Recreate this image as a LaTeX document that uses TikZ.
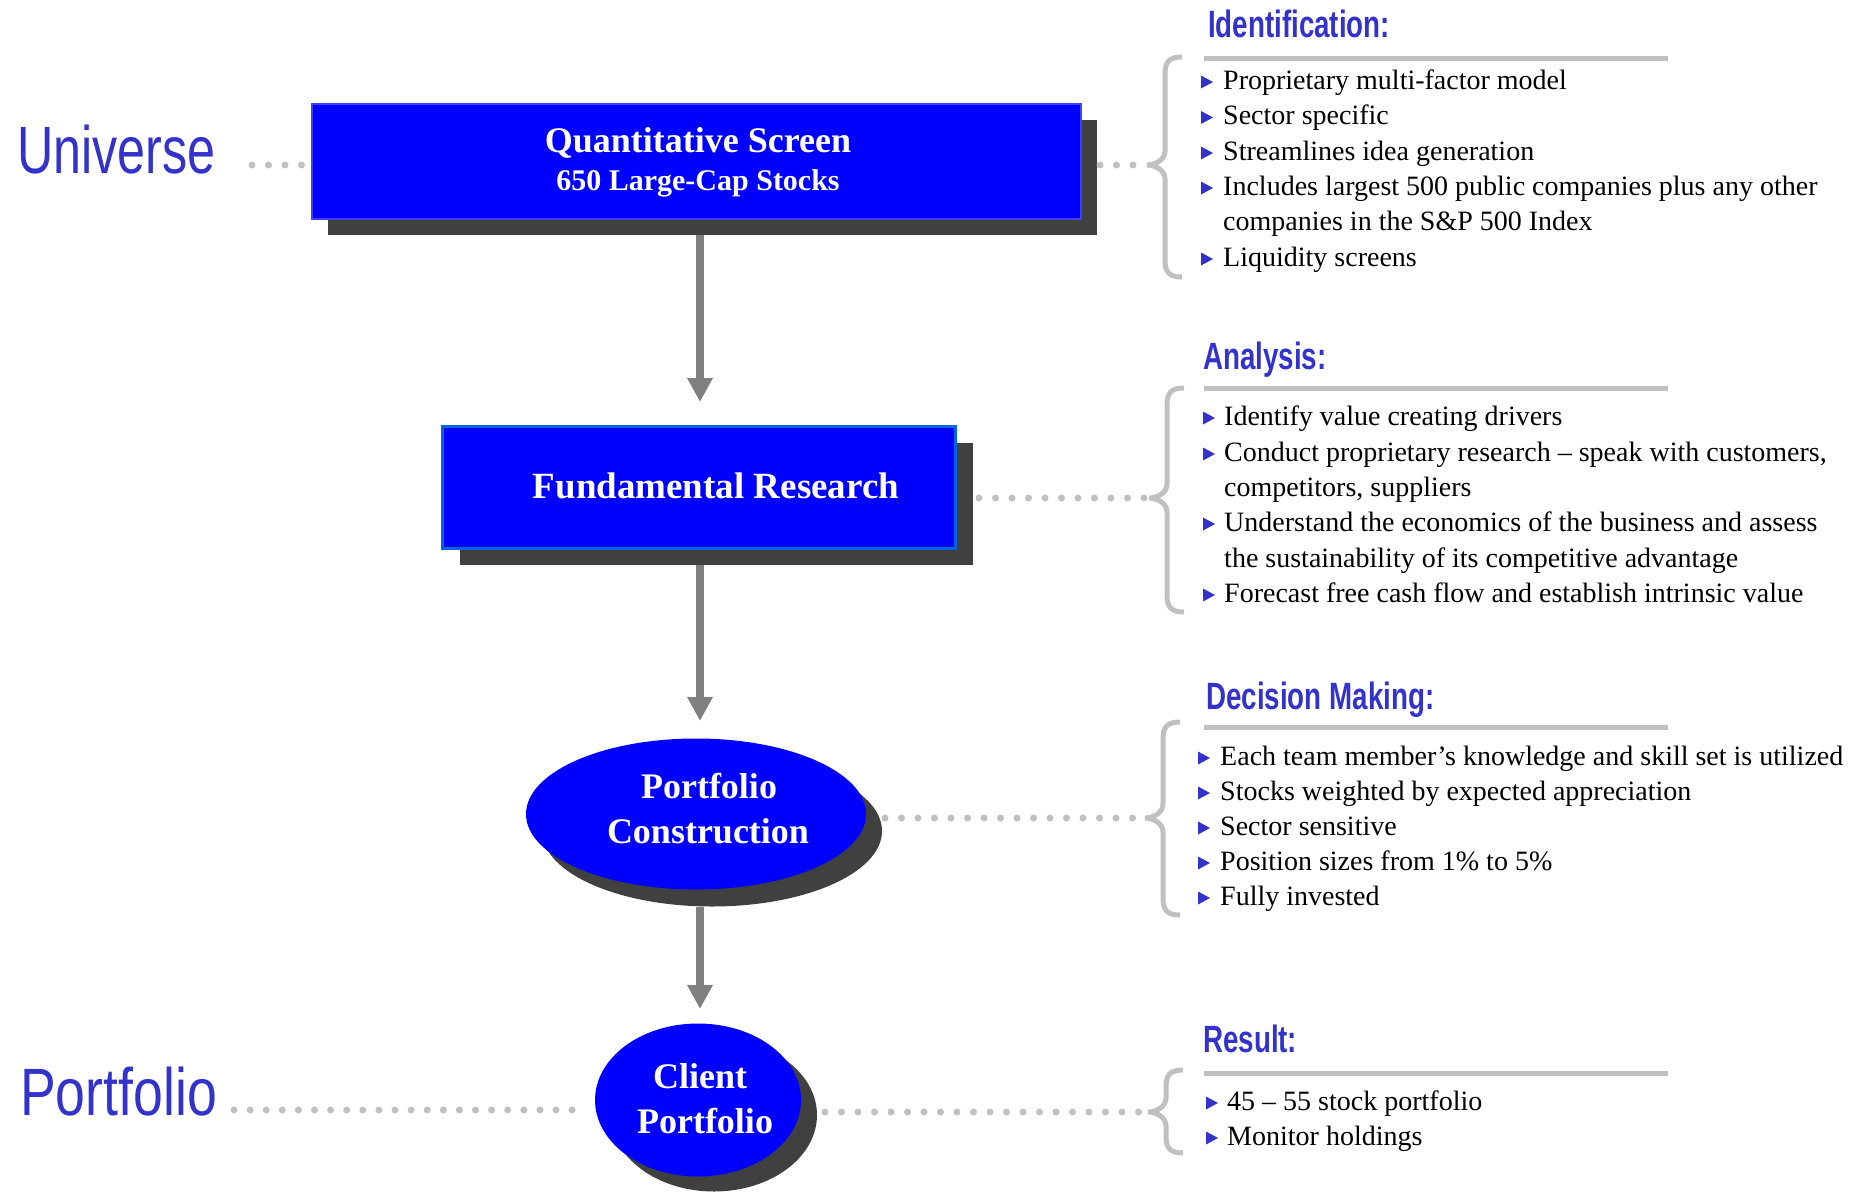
\documentclass[tikz,border=0pt]{standalone}
\usepackage{fontspec}
\setmainfont{Liberation Serif}
\newfontfamily\bigcond[FakeStretch=0.75]{Liberation Sans}
\newfontfamily\bigcondb[FakeStretch=0.8]{Liberation Sans}
\newfontfamily\headcond[FakeStretch=0.73]{Liberation Sans Bold}
\usetikzlibrary{shapes.geometric,arrows.meta}
\definecolor{boxblue}{RGB}{0,0,255}
\definecolor{headblue}{RGB}{51,51,204}
\definecolor{shadowgray}{RGB}{64,64,64}
\definecolor{lightgray}{RGB}{192,192,192}
\definecolor{arrowgray}{RGB}{128,128,128}
\definecolor{edgeblue}{RGB}{0,100,225}
\tikzset{
  rectbox/.style={rectangle,inner sep=0pt,outer sep=0pt,fill=boxblue},
  rectshadow/.style={rectangle,inner sep=0pt,outer sep=0pt,fill=shadowgray},
  ellbox/.style={ellipse,inner sep=0pt,outer sep=0pt,fill=boxblue},
  ellshadow/.style={ellipse,inner sep=0pt,outer sep=0pt,fill=shadowgray},
  boxtext/.style={anchor=base,inner sep=0pt,text=white,font=\bfseries\fontsize{36}{40}\selectfont},
  biglabel/.style={anchor=base west,inner sep=0pt,text=headblue,font=\bigcond\fontsize{67}{70}\selectfont},
  head/.style={anchor=base west,inner sep=0pt,text=headblue,font=\headcond\fontsize{38}{42}\selectfont},
  item/.style={anchor=base west,inner sep=0pt,text=black,font=\fontsize{28}{34}\selectfont},
  dots/.style={draw=lightgray,line width=7pt,line cap=round,dash pattern=on 0pt off 16.5pt},
  flow/.style={draw=arrowgray,line width=8pt,-{Triangle[width=24pt,length=24pt]}},
  rule/.style={draw=lightgray,line width=5pt},
  bracestyle/.style={draw=lightgray,line width=5pt},
  bul/.pic={\fill[headblue] (0,-6.5) -- (12,0) -- (0,6.5) -- cycle;}
}
\newcommand{\mybrace}[4]{%
\draw[bracestyle] ({#1+35},#2) .. controls ({#1+22},#2) and ({#1+18},{#2+5}) .. ({#1+18},{#2+17})
 -- ({#1+18},{#3-14}) .. controls ({#1+18},{#3-5}) and ({#1+8},#3) .. (#1,#3)
 .. controls ({#1+8},#3) and ({#1+18},{#3+5}) .. ({#1+18},{#3+14})
 -- ({#1+18},{#4-17}) .. controls ({#1+18},{#4-5}) and ({#1+22},#4) .. ({#1+35},#4);}
\begin{document}
\begin{tikzpicture}[x=1pt,y=-1pt]
\useasboundingbox (0,0) rectangle (1862,1191);

% ---------- left labels
\node[biglabel] (uni) at (17,173) {Universe};
\node[biglabel,font=\bigcondb\fontsize{67}{70}\selectfont] (portl) at (20,1115) {Portfolio};

% ---------- flow shapes
\node[rectshadow,minimum width=769pt,minimum height=115pt] (b1s) at (712.5,177.5) {};
\node[rectbox,draw=blue!75!white,line width=1.5pt,minimum width=769pt,minimum height=115pt] (b1) at (696.5,161.5) {};
\node[boxtext] (q1) at (698,152) {Quantitative Screen};
\node[boxtext,font=\bfseries\fontsize{30}{34}\selectfont] (q2) at (698,190) {650 Large-Cap Stocks};

\node[rectshadow,minimum width=513pt,minimum height=122pt] (b2s) at (716.5,504) {};
\node[rectbox,draw=edgeblue,line width=3pt,minimum width=513pt,minimum height=122pt] (b2) at (698.5,487) {};
\node[boxtext,font=\bfseries\fontsize{37}{40}\selectfont] (f1) at (716,498) {Fundamental Research};

\node[ellshadow,minimum width=340pt,minimum height=151pt] (pcs) at (712,831) {};
\node[ellbox,minimum width=340pt,minimum height=151pt] (pc) at (696,814) {};
\node[boxtext] (pc1) at (709,798) {Portfolio};
\node[boxtext] (pc2) at (708,843) {Construction};

\node[ellshadow,minimum width=206pt,minimum height=153pt] (cps) at (714,1115) {};
\node[ellbox,minimum width=206pt,minimum height=153pt] (cp) at (698,1100) {};
\node[boxtext] (cp1) at (700,1088) {Client};
\node[boxtext] (cp2) at (705,1133) {Portfolio};

% ---------- flow arrows
\coordinate (t1) at (700,402);
\coordinate (t2) at (700,721);
\coordinate (t3) at (700,1009);
\draw[flow] (b1s.south -| t1) -- (t1);
\draw[flow] (b2s.south -| t2) -- (t2);
\draw[flow] (pcs.south -| t3) -- (t3);

% ---------- dotted connectors
\coordinate (ud) at (252,165);
\draw[dots] (ud) -- (b1.west |- ud);
\coordinate (pd) at (234,1110);
\draw[dots,dash pattern=on 0pt off 16.1pt,shorten >=20pt] (pd) -- (cp.west |- pd);

\coordinate (tip1) at (1147,165);
\coordinate (tip2) at (1149,498);
\coordinate (tip3) at (1145,818);
\coordinate (tip4) at (1148,1112);
\draw[dots,shorten <=3pt] (b1s.east |- tip1) -- (tip1);
\draw[dots,shorten <=6pt] (b2s.east |- tip2) -- (tip2);
\draw[dots,shorten <=3pt] (pcs.east |- tip3) -- (tip3);
\draw[dots,shorten <=8pt] (cps.east |- tip4) -- (tip4);

% ---------- braces
\mybrace{1147}{57}{165}{277}
\mybrace{1149}{388}{498}{612}
\mybrace{1145}{722}{818}{915}
\mybrace{1148}{1070}{1112}{1153}

% ---------- headings and rules
\node[head] (h1) at (1208,37) {Identification:};
\draw[rule] (1204,58) -- (1668,58);
\node[head] (h2) at (1203,369) {Analysis:};
\draw[rule] (1204,388) -- (1668,388);
\node[head] (h3) at (1206,709) {Decision Making:};
\draw[rule] (1204,727) -- (1668,727);
\node[head] (h4) at (1203,1052) {Result:};
\draw[rule] (1204,1073) -- (1668,1073);

% ---------- section 1
\pic at (1201,82) {bul};
\node[item] (i1a) at (1223,89) {Proprietary multi-factor model};
\pic at (1201,117.5) {bul};
\node[item] (i1b) at (1223,124.5) {Sector specific};
\pic at (1201,153) {bul};
\node[item] (i1c) at (1223,160) {Streamlines idea generation};
\pic at (1201,188) {bul};
\node[item] (i1d) at (1223,195) {Includes largest 500 public companies plus any other};
\node[item] (i1e) at (1223,230) {companies in the S\&P 500 Index};
\pic at (1201,259) {bul};
\node[item] (i1f) at (1223,266) {Liquidity screens};

% ---------- section 2
\pic at (1203,418) {bul};
\node[item] (i2a) at (1224,425) {Identify value creating drivers};
\pic at (1203,454) {bul};
\node[item] (i2b) at (1224,461) {Conduct proprietary research – speak with customers,};
\node[item] (i2c) at (1224,496) {competitors, suppliers};
\pic at (1203,524) {bul};
\node[item] (i2d) at (1224,531) {Understand the economics of the business and assess};
\node[item] (i2e) at (1224,567) {the sustainability of its competitive advantage};
\pic at (1203,595) {bul};
\node[item] (i2f) at (1224,602) {Forecast free cash flow and establish intrinsic value};

% ---------- section 3
\pic at (1198,758) {bul};
\node[item] (i3a) at (1220,765) {Each team member’s knowledge and skill set is utilized};
\pic at (1198,793) {bul};
\node[item] (i3b) at (1220,800) {Stocks weighted by expected appreciation};
\pic at (1198,828) {bul};
\node[item] (i3c) at (1220,835) {Sector sensitive};
\pic at (1198,863) {bul};
\node[item] (i3d) at (1220,870) {Position sizes from 1\% to 5\%};
\pic at (1198,898) {bul};
\node[item] (i3e) at (1220,905) {Fully invested};

% ---------- section 4
\pic at (1206,1103) {bul};
\node[item] (i4a) at (1227,1110) {45 – 55 stock portfolio};
\pic at (1206,1138) {bul};
\node[item] (i4b) at (1227,1145) {Monitor holdings};
\end{tikzpicture}
\end{document}
